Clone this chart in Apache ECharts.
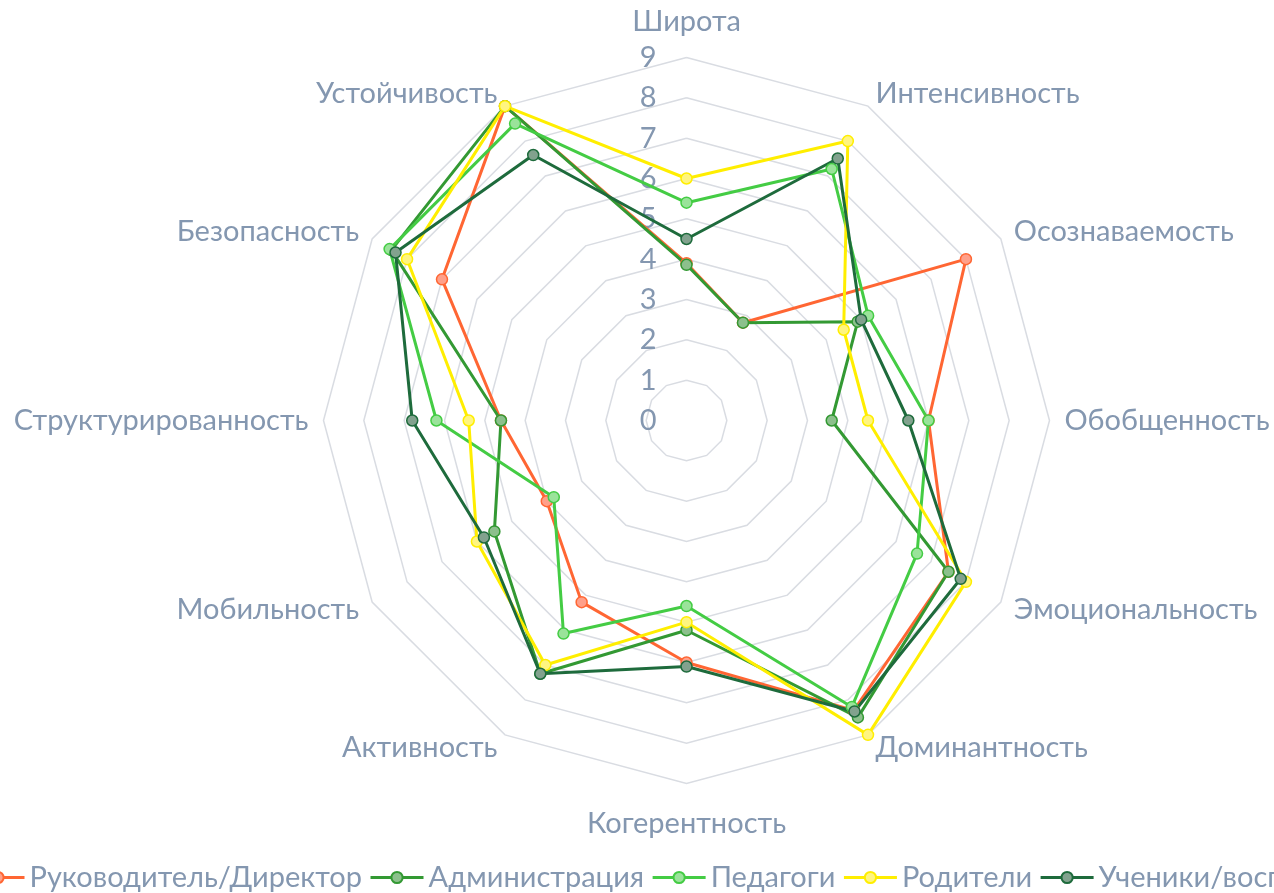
<!DOCTYPE html>
<html>
<head>
<meta charset="utf-8">
<script src="https://cdn.jsdelivr.net/npm/echarts@6/dist/echarts.min.js"></script>
<style>
  html, body { margin: 0; padding: 0; background: #fff; }
  #chart { width: 1274px; height: 893px; }
</style>
</head>
<body>
<div id="chart"></div>
<script>
// indicators, clockwise from the top
var indicatorNames = ['Широта', 'Интенсивность', 'Осознаваемость', 'Обобщенность', 'Эмоциональность',
  'Доминантность', 'Когерентность', 'Активность', 'Мобильность', 'Структурированность',
  'Безопасность', 'Устойчивость'];
var seriesNames = ['Руководитель/Директор', 'Администрация', 'Педагоги', 'Родители', 'Ученики/воспитанники'];
var lineColors = ['#FF6633', '#339933', '#44CC44', '#FFEE00', '#1E6B3C'];
var markerFills = ['#FFA08A', '#8CC08C', '#9AE39A', '#FFF580', '#82A28E'];
var axisTicks = [0, 9];

var directorValues = [3.9, 2.8, 8.0, 6.0, 7.5, 8.3, 6.0, 5.2, 4.0, 4.6, 7.0, 9.0];
var adminValues = [3.86, 2.8, 4.9, 3.6, 7.5, 8.5, 5.2, 7.25, 5.5, 4.6, 8.45, 9.0];
var teacherValues = [5.4, 7.2, 5.2, 6.0, 6.6, 8.2, 4.6, 6.1, 3.8, 6.2, 8.5, 8.5];
var parentValues = [6.0, 8.0, 4.5, 4.5, 8.0, 9.0, 5.0, 7.0, 6.0, 5.4, 8.0, 9.0];
var studentValues = [4.5, 7.5, 5.0, 5.5, 7.85, 8.33, 6.1, 7.25, 5.8, 6.8, 8.33, 7.6];

var allValues = [directorValues, adminValues, teacherValues, parentValues, studentValues];

// echarts lays radar axes out counter-clockwise, so walk the list backwards after the first one
var order = [0];
for (var k = indicatorNames.length - 1; k > 0; k--) order.push(k);

var FONT = 'Lato';
var TEXT_COLOR = '#8497B0';

var indicators = order.map(function (i, n) {
  var ind = { name: indicatorNames[i], min: axisTicks[0], max: axisTicks[1] };
  if (n === 0) {
    // only the top axis carries the scale numbers
    ind.nameGap = 21;
    ind.axisLabel = {
      show: true, showMinLabel: true, showMaxLabel: true,
      color: TEXT_COLOR, fontSize: 29, fontFamily: FONT, margin: 30
    };
  }
  if (indicatorNames[i] === 'Когерентность') ind.nameGap = 26;
  return ind;
});

// empty line series first: they only give the legend its line-with-marker icons
var legendSeries = seriesNames.map(function (name, s) {
  return {
    name: name,
    type: 'line',
    symbol: 'circle',
    symbolSize: 11,
    lineStyle: { color: lineColors[s], width: 3 },
    itemStyle: { color: markerFills[s], borderColor: lineColors[s], borderWidth: 1.5 },
    data: []
  };
});

var radarSeries = seriesNames.map(function (name, s) {
  return {
    name: name,
    type: 'radar',
    symbol: 'circle',
    symbolSize: 11,
    lineStyle: { color: lineColors[s], width: 3 },
    itemStyle: { color: markerFills[s], borderColor: lineColors[s], borderWidth: 1.5 },
    emphasis: { disabled: true },
    data: [{ name: name, value: order.map(function (i) { return allValues[s][i]; }) }]
  };
});

var chart = echarts.init(document.getElementById('chart'), null, { renderer: 'canvas' });
chart.setOption({
  backgroundColor: '#fff',
  animation: false,
  color: lineColors,
  grid: { show: false, left: 0, top: 0, width: 10, height: 10 },
  xAxis: { type: 'category', show: false },
  yAxis: { type: 'value', show: false },
  legend: {
    data: seriesNames,
    left: -35,
    top: 858,
    width: 1900,
    itemWidth: 53,
    itemHeight: 14,
    itemGap: 7,
    lineStyle: { width: 3 },
    textStyle: { color: TEXT_COLOR, fontSize: 29, fontFamily: FONT }
  },
  radar: {
    center: [686.5, 420.5],
    radius: 363,
    shape: 'polygon',
    splitNumber: 9,
    startAngle: 90,
    nameGap: 15,
    axisName: { color: TEXT_COLOR, fontSize: 29, fontFamily: FONT },
    axisLine: { show: false },
    axisTick: { show: false },
    axisLabel: { show: false },
    splitLine: { lineStyle: { color: '#D9DCE2', width: 1.5 } },
    splitArea: { show: false },
    indicator: indicators
  },
  series: legendSeries.concat(radarSeries)
});
</script>
</body>
</html>
